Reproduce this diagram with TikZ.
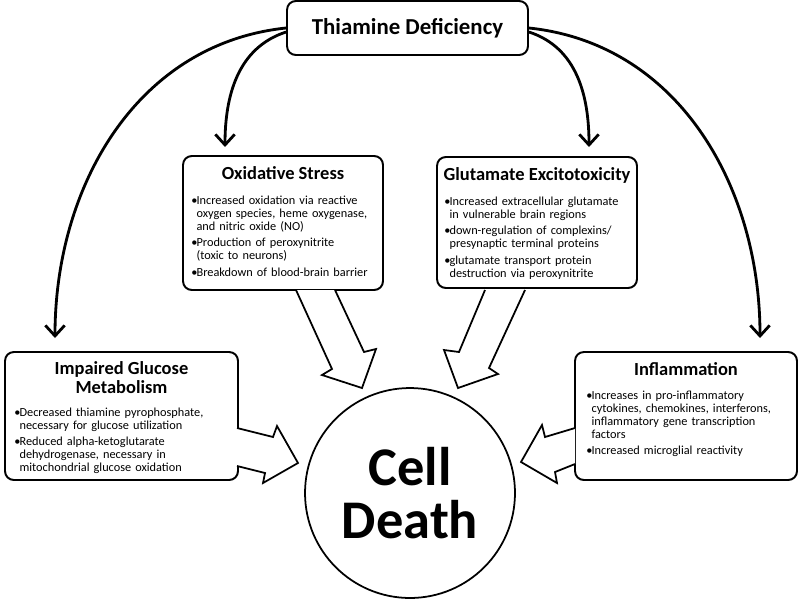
\documentclass[tikz,border=0pt]{standalone}
\usepackage{fontspec}
\setmainfont{Carlito}
\usetikzlibrary{arrows.meta,calc}

\tikzset{
  box/.style={draw, line width=1.1pt, rounded corners=5pt, fill=white, inner sep=0pt},
  ttl/.style={font=\bfseries\fontsize{10.5}{11}\selectfont, align=center, inner sep=0pt},
  body/.style={font=\fontsize{7}{7.4}\selectfont, text width=4.3cm, inner sep=0pt, anchor=north west},
  link/.style={line width=1.6pt, -{Straight Barb[length=6pt,width=11pt,line width=1.6pt]}},
  fat/.style={draw, line width=1pt, fill=white, line join=miter},
}
\newcommand{\bul}[1]{\par\vspace{2.1pt}\hangindent=0.42em\hangafter=1\noindent\makebox[0.42em][l]{\textbullet}#1\par}

\begin{document}
\begin{tikzpicture}[x=0.02cm, y=0.02cm]
    \useasboundingbox (0,0) rectangle (800,600);

    % boxes
    \node[box, minimum width=4.82cm, minimum height=1.08cm,
          font=\bfseries\fontsize{13}{15}\selectfont] (td) at (407.5,572) {Thiamine Deficiency};
    \node[box, minimum width=4cm, minimum height=2.68cm] (ox) at (283,377) {};
    \node[box, minimum width=4cm, minimum height=2.62cm] (gx) at (537,377.5) {};
    \node[box, minimum width=4.66cm, minimum height=2.56cm] (gl) at (121.5,184) {};
    \node[box, minimum width=4.44cm, minimum height=2.56cm] (infl) at (686,184) {};
    \node[draw, circle, line width=1pt, minimum size=4.2cm, inner sep=0pt,
          font=\bfseries\fontsize{31}{30.5}\selectfont, align=center] (cd) at (410,107) {Cell\\Death};

    % titles
    \node[ttl] (oxttl) at ($(ox.north)+(0,-18)$) {Oxidative Stress};
    \node[ttl] (gxttl) at ($(gx.north)+(0,-19)$) {Glutamate Excitotoxicity};
    \node[ttl] (glttl) at ($(gl.north)+(0,-26.5)$) {Impaired Glucose\\Metabolism};
    \node[ttl] (inflttl) at ($(infl.north)+(0,-18)$) {Inflammation};

    % bullet lists
    \node[body] (oxtxt) at ($(ox.north west)+(9,-32)$) {%
      \bul{Increased oxidation via reactive\newline oxygen species, heme oxygenase,\newline and nitric oxide (NO)}
      \bul{Production of peroxynitrite\newline (toxic to neurons)}
      \bul{Breakdown of blood-brain barrier}};
    \node[body] (gxtxt) at ($(gx.north west)+(8,-32)$) {%
      \bul{Increased extracellular glutamate\newline in vulnerable brain regions}
      \bul{down-regulation of complexins/\newline presynaptic terminal proteins}
      \bul{glutamate transport protein\newline destruction via peroxynitrite}};
    \node[body] (gltxt) at ($(gl.north west)+(10,-48)$) {%
      \bul{Decreased thiamine pyrophosphate,\newline necessary for glucose utilization}
      \bul{Reduced alpha-ketoglutarate\newline dehydrogenase, necessary in\newline mitochondrial glucose oxidation}};
    \node[body] (infltxt) at ($(infl.north west)+(12,-31)$) {%
      \bul{Increases in pro-inflammatory\newline cytokines, chemokines, interferons,\newline inflammatory gene transcription\newline factors}
      \bul{Increased microglial reactivity}};

    % curved arrows from thiamine deficiency
    \coordinate (glTip) at (55,262);
    \coordinate (oxTip) at (225,453);
    \coordinate (gxTip) at (589,453);
    \coordinate (inflTip) at (760,262);
    \draw[link] (td.west) to[out=186,in=90] (glTip);
    \draw[link] ($(td.west)+(0,-4)$) to[out=198,in=90] (oxTip);
    \draw[link] ($(td.east)+(0,-4)$) to[out=-18,in=90] (gxTip);
    \draw[link] (td.east) to[out=-6,in=90] (inflTip);

    % block arrows into cell death
    \path[fat] (296,310) -- (332,231) -- (322,225) -- (362,212) -- (376,251) -- (364,248) -- (335,310);
    \path[fat] (485,310) -- (459,248) -- (444,250) -- (458,212) -- (498,226) -- (489,232) -- (525,310);
    \path[fat] (237,172) -- (273,163) -- (277,174) -- (298,137) -- (263,117) -- (265,127) -- (237,134);
    \path[fat] (575,172) -- (545,163) -- (542,175) -- (521,138) -- (557,117) -- (555,128) -- (575,136);
\end{tikzpicture}
\end{document}
